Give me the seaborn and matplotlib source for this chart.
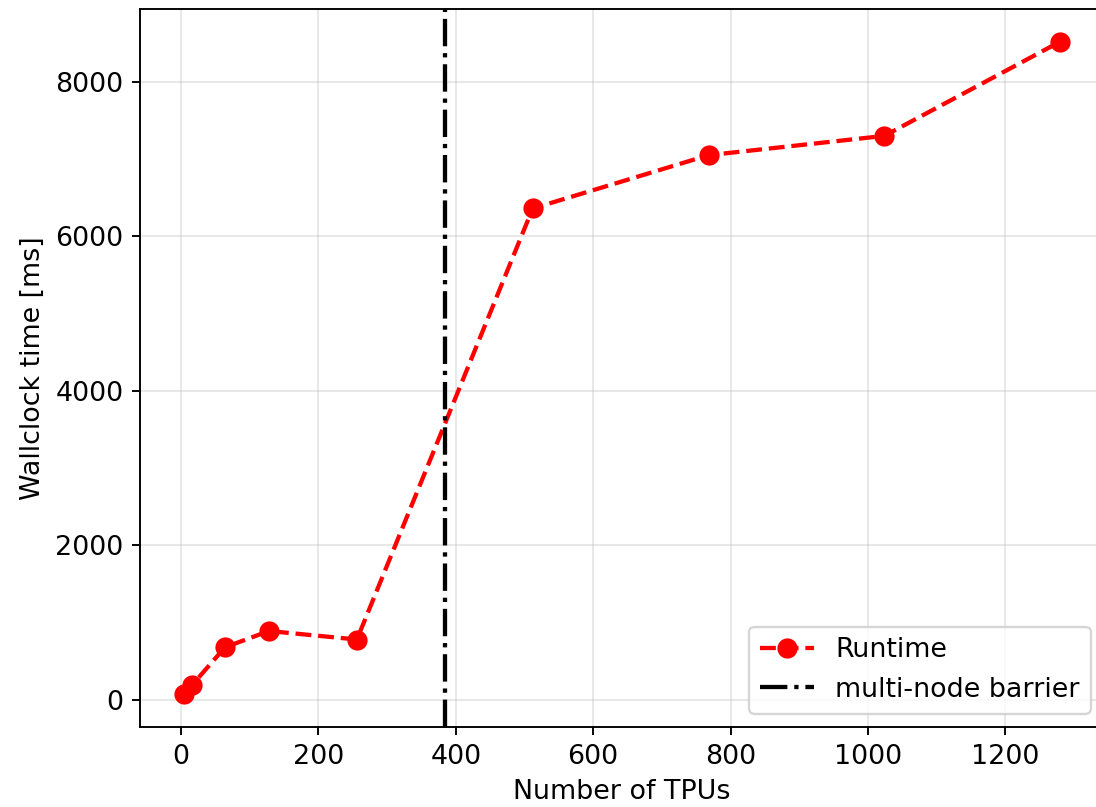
import matplotlib
matplotlib.use("Agg")
import matplotlib.pyplot as plt
import seaborn as sns
import pandas as pd

# runtime vs number of TPUs
n_tpus = [4, 16, 64, 128, 256, 512, 768, 1024, 1280]
runtime_ms = [70, 190, 680, 890, 780, 6360, 7050, 7300, 8520]
barrier_x = 384

df = pd.DataFrame({"tpus": n_tpus, "runtime": runtime_ms})

fs = 11.3
dpi = 171.25
fig = plt.figure(figsize=(1096 / dpi, 807 / dpi), dpi=dpi)
ax = fig.add_axes([140 / 1096, 80 / 807, (1104 - 140) / 1096, (727 - 9) / 807])

sns.lineplot(data=df, x="tpus", y="runtime", ax=ax, color="red", linestyle="--",
             marker="o", markersize=8.5, markeredgecolor="red", markeredgewidth=0,
             linewidth=1.8, label="Runtime")
ax.axvline(barrier_x, color="black", linestyle="-.", linewidth=1.8, label="multi-node barrier")

ax.set_xlabel("Number of TPUs", fontsize=fs)
ax.set_ylabel("Wallclock time [ms]", fontsize=fs)
ax.tick_params(labelsize=fs)
ax.set_xticks([0, 200, 400, 600, 800, 1000, 1200])
ax.set_yticks([0, 2000, 4000, 6000, 8000])
ax.margins(0.05)
ax.grid(alpha=0.3)
ax.legend(loc="lower right", fontsize=fs)

fig.savefig("out.png", dpi=dpi)
